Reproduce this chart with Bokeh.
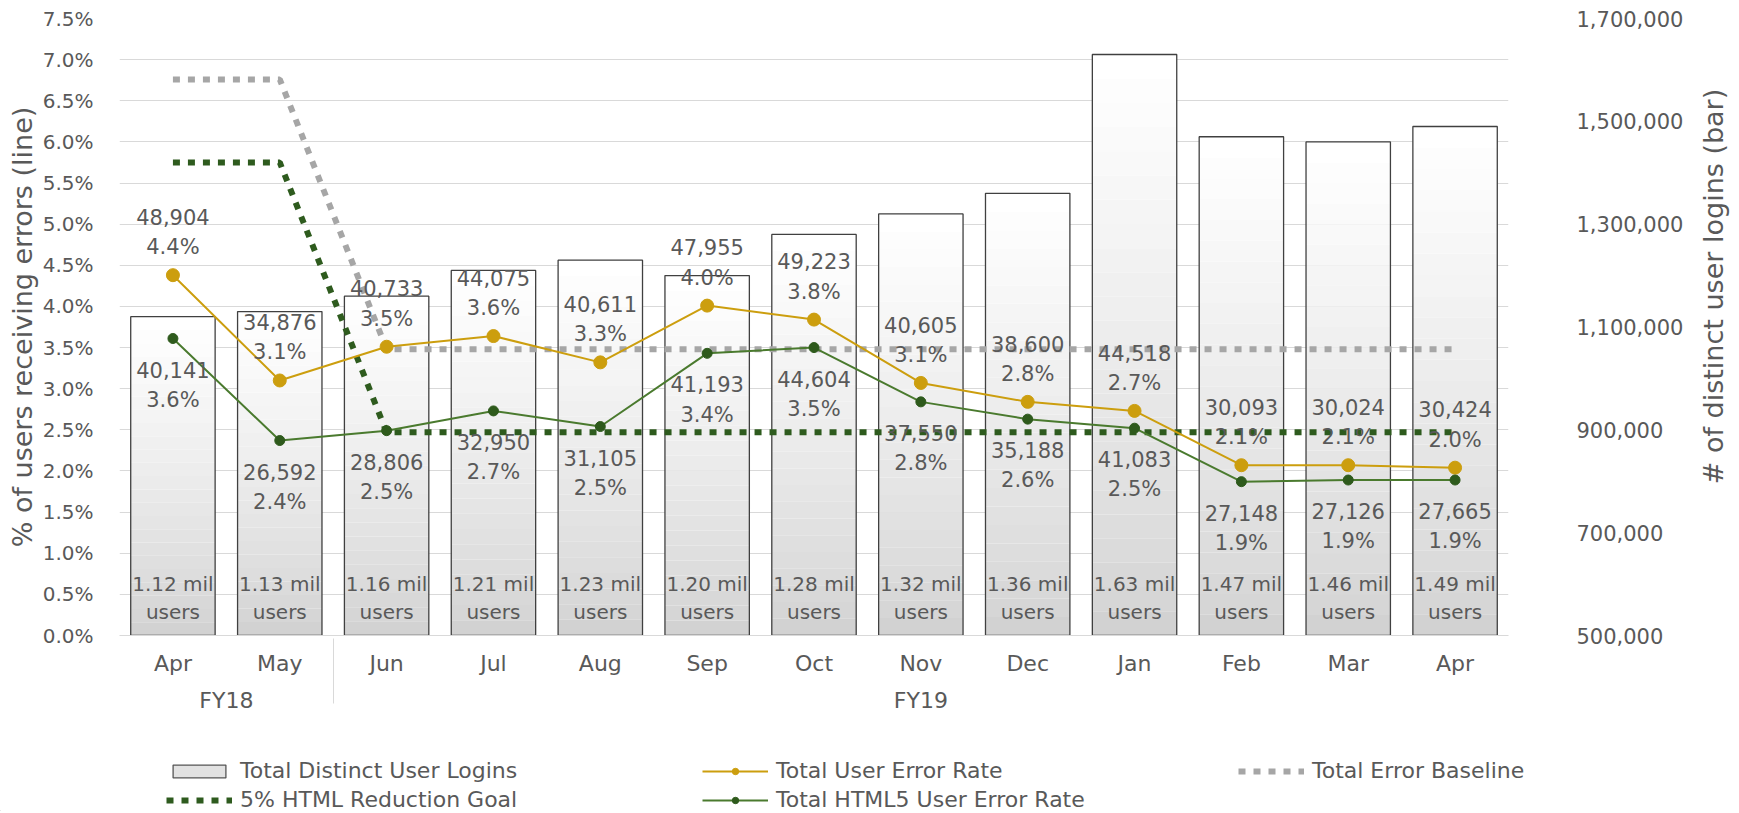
import math
from bokeh.plotting import figure
from bokeh.layouts import column, row
from bokeh.models import (FactorRange, Range1d, LinearAxis, FixedTicker, PrintfTickFormatter,
                          NumeralTickFormatter, ColumnDataSource, Legend, LegendItem)
from bokeh.embed import file_html
from bokeh.resources import INLINE
from bokeh.core.properties import value

# ---------------- data ----------------
fiscal_years = ["FY18", "FY18", "FY19", "FY19", "FY19", "FY19", "FY19", "FY19", "FY19", "FY19", "FY19", "FY19", "FY19"]
months = ["Apr", "May", "Jun", "Jul", "Aug", "Sep", "Oct", "Nov", "Dec", "Jan", "Feb", "Mar", "Apr"]
user_logins_mil = [1.12, 1.13, 1.16, 1.21, 1.23, 1.20, 1.28, 1.32, 1.36, 1.63, 1.47, 1.46, 1.49]
total_errors = [48904, 34876, 40733, 44075, 40611, 47955, 49223, 40605, 38600, 44518, 30093, 30024, 30424]
total_error_rate = [4.38, 3.10, 3.51, 3.64, 3.32, 4.01, 3.84, 3.07, 2.84, 2.73, 2.07, 2.07, 2.04]
html5_errors = [40141, 26592, 28806, 32950, 31105, 41193, 44604, 37550, 35188, 41083, 27148, 27126, 27665]
html5_error_rate = [3.61, 2.37, 2.49, 2.73, 2.54, 3.43, 3.50, 2.84, 2.63, 2.52, 1.87, 1.89, 1.89]
error_baseline = [6.76, 6.76, 3.48, 3.48, 3.48, 3.48, 3.48, 3.48, 3.48, 3.48, 3.48, 3.48, 3.48]
html_goal = [5.75, 5.75, 2.47, 2.47, 2.47, 2.47, 2.47, 2.47, 2.47, 2.47, 2.47, 2.47, 2.47]

left_ticks = [i * 0.5 for i in range(16)]
right_ticks = [500000, 700000, 900000, 1100000, 1300000, 1500000, 1700000]

left_title = "% of users receiving errors (line)"
right_title = "# of distinct user logins (bar)"
legend_labels = ["Total Distinct User Logins", "Total User Error Rate", "Total Error Baseline",
                 "5% HTML Reduction Goal", "Total HTML5 User Error Rate"]

# ---------------- styles ----------------
FONT = "DejaVu Sans"
TXT = "#595959"
GOLD = "#CC9E0E"
GREEN_LINE = "#4A7A2E"
GREEN_MARK = "#2E5A1C"
GREEN_DOT = "#2E5B1E"
GRAY_DOT = "#A6A6A6"
BAR_LINE = "#404040"

factors = list(zip(fiscal_years, months))
x_range = FactorRange(factors=factors, group_padding=0, range_padding=0)

p = figure(x_range=x_range, y_range=Range1d(0, 7.5),
           width=1696, height=733,
           min_border_left=119, min_border_top=18, min_border_right=188, min_border_bottom=98,
           output_backend="svg", toolbar_location=None, background_fill_color="white",
           border_fill_color="white", outline_line_color=None)

p.extra_y_ranges = {"bars": Range1d(500000, 1700000)}

# bars with vertical gradient (stacked segments)
N = 24
seg_x, seg_bottom, seg_top, seg_color = [], [], [], []
base = p.extra_y_ranges["bars"].start
for f, u in zip(factors, user_logins_mil):
    top = u * 1e6
    for k in range(N):
        t = k / (N - 1)
        c = int(round(0xd2 + (0xff - 0xd2) * t ** 0.8))
        seg_x.append(f)
        seg_bottom.append(base + (top - base) * k / N)
        seg_top.append(base + (top - base) * (k + 1) / N)
        seg_color.append("#%02x%02x%02x" % (c, c, c))

bar_src = ColumnDataSource(dict(x=factors, top=[u * 1e6 for u in user_logins_mil]))
p.vbar(x=seg_x, bottom=seg_bottom, top=seg_top, width=0.79, fill_color=seg_color,
       line_color=None, y_range_name="bars")
p.vbar(x="x", top="top", bottom=base, width=0.79, source=bar_src, y_range_name="bars",
       fill_color=None, line_color=BAR_LINE, line_width=1.3)

# dotted reference lines
p.line(factors, error_baseline, line_color=GRAY_DOT, line_width=6, line_dash="7 8")
p.line(factors, html_goal, line_color=GREEN_DOT, line_width=6, line_dash="7 8")

# error rate lines
p.line(factors, total_error_rate, line_color=GOLD, line_width=2)
p.scatter(factors, total_error_rate, size=13, fill_color=GOLD, line_color=GOLD)
p.line(factors, html5_error_rate, line_color=GREEN_LINE, line_width=2)
p.scatter(factors, html5_error_rate, size=10, fill_color=GREEN_MARK, line_color=GREEN_MARK)

# data labels
tot_text = ["{:,}\n{:.1f}%".format(c, r) for c, r in zip(total_errors, total_error_rate)]
h5_text = ["{:,}\n{:.1f}%".format(c, r) for c, r in zip(html5_errors, html5_error_rate)]
bar_text = ["{:.2f} mil\nusers".format(u) for u in user_logins_mil]

common = dict(text_font=value(FONT), text_color=TXT, text_align="center")
p.text(factors, total_error_rate, text=tot_text, text_baseline="bottom", y_offset=-16,
       text_font_size="21px", text_line_height=1.22, **common)
p.text(factors, html5_error_rate, text=h5_text, text_baseline="top", y_offset=20,
       text_font_size="21px", text_line_height=1.22, **common)
p.text(factors, [0] * len(factors), text=bar_text, text_baseline="bottom", y_offset=-11,
       text_font_size="20px", text_line_height=1.2, **common)

# axes
p.yaxis.ticker = FixedTicker(ticks=left_ticks)
p.yaxis.formatter = PrintfTickFormatter(format="%.1f%%")
p.yaxis.axis_label = left_title
right = LinearAxis(y_range_name="bars", ticker=FixedTicker(ticks=right_ticks),
                   formatter=NumeralTickFormatter(format="0,0"))
p.add_layout(right, "right")

for ax in [p.yaxis[0], right]:
    ax.axis_line_color = None
    ax.major_tick_line_color = None
    ax.minor_tick_line_color = None
    ax.major_label_text_font = FONT
    ax.major_label_text_color = TXT
p.yaxis[0].axis_label_text_font = FONT
p.yaxis[0].axis_label_text_font_size = "27px"
p.yaxis[0].axis_label_text_font_style = "normal"
p.yaxis[0].axis_label_text_color = TXT
p.yaxis[0].major_label_text_font_size = "20px"
right.major_label_text_font_size = "21px"
p.yaxis[0].major_label_standoff = 20
p.yaxis[0].axis_label_standoff = 2
right.major_label_standoff = 62

xa = p.xaxis[0]
xa.axis_line_color = "#d9d9d9"
xa.major_tick_line_color = None
xa.minor_tick_line_color = None
xa.major_label_text_font = FONT
xa.major_label_text_font_size = "22px"
xa.major_label_text_color = TXT
xa.group_text_font = FONT
xa.group_text_font_size = "22px"
xa.group_text_font_style = "normal"
xa.group_text_color = TXT
xa.separator_line_color = "#d9d9d9"
xa.separator_line_width = 1
xa.major_label_standoff = 9

p.xgrid.grid_line_color = None
p.ygrid.grid_line_color = "#d9d9d9"
p.ygrid.grid_line_width = 1

# ---------------- right axis title strip ----------------
tf = figure(width=40, height=733, x_range=Range1d(0, 40), y_range=Range1d(0, 733),
            min_border=0, frame_align=False, output_backend="svg", toolbar_location=None,
            outline_line_color=None, background_fill_color="white", border_fill_color="white")
tf.axis.visible = False
tf.grid.visible = False
tf.text(x=[17], y=[447], text=[right_title], angle=math.pi / 2, text_align="center",
        text_baseline="middle", text_font=value(FONT), text_font_size="27px", text_color=TXT)

# ---------------- legend strip ----------------
lg = figure(width=1736, height=78, x_range=Range1d(0, 1), y_range=Range1d(0, 1),
            min_border=0, frame_align=False, output_backend="svg", toolbar_location=None,
            outline_line_color=None, background_fill_color="white", border_fill_color="white")
lg.axis.visible = False
lg.grid.visible = False
hx, hy = [-5, -4], [-5, -5]   # off-view points, only the legend swatches are seen
r_bar = lg.vbar(x=hx, top=hy, bottom=-6, width=0.5, fill_color="#e2e2e2", line_color="#555555", line_width=1.3)
r_tot_l = lg.line(x=hx, y=hy, line_color=GOLD, line_width=2)
r_tot_m = lg.scatter(x=hx, y=hy, size=10, fill_color=GOLD, line_color=GOLD)
r_base = lg.line(x=hx, y=hy, line_color=GRAY_DOT, line_width=6, line_dash="7 8")
r_goal = lg.line(x=hx, y=hy, line_color=GREEN_DOT, line_width=6, line_dash="7 8")
r_h5_l = lg.line(x=hx, y=hy, line_color=GREEN_LINE, line_width=2)
r_h5_m = lg.scatter(x=hx, y=hy, size=9, fill_color=GREEN_MARK, line_color=GREEN_MARK)

legend = Legend(items=[
    LegendItem(label=legend_labels[0], renderers=[r_bar]),
    LegendItem(label=legend_labels[1], renderers=[r_tot_l, r_tot_m]),
    LegendItem(label=legend_labels[2], renderers=[r_base]),
    LegendItem(label=legend_labels[3], renderers=[r_goal]),
    LegendItem(label=legend_labels[4], renderers=[r_h5_l, r_h5_m]),
], ncols=3, orientation="horizontal", location=(166, -1),
    label_text_font=FONT, label_text_font_size="22px", label_text_color=TXT,
    glyph_width=66, glyph_height=16, label_width=458, spacing=4, label_standoff=8,
    label_height=20, padding=0, margin=0, border_line_color=None, background_fill_alpha=0)
lg.add_layout(legend, "center")

layout = column(row(p, tf, spacing=0), lg, spacing=0)
open("out.html", "w").write(file_html(layout, INLINE))
